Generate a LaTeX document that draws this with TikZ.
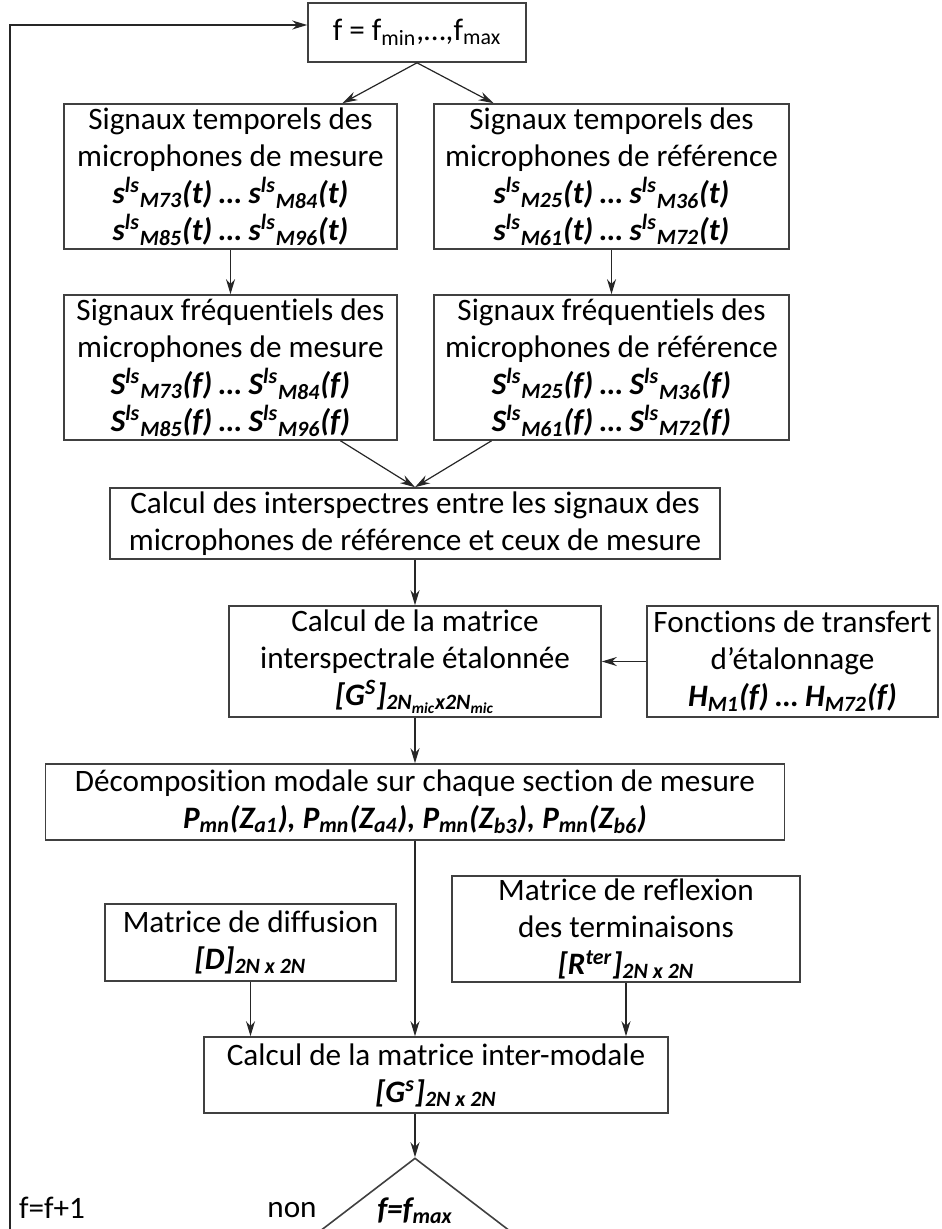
\documentclass[tikz,border=0pt]{standalone}
\usepackage{fontspec}
\setmainfont{Carlito}[Ligatures=NoCommon]
\usetikzlibrary{arrows.meta,shapes.geometric}
\newcommand{\msig}[3]{#1\textsuperscript{ls}\textsubscript{M#2}(#3)}

\begin{document}
\begin{tikzpicture}[x=0.5pt, y=-0.5pt, >={Stealth[length=7.5pt,width=4.5pt]},
	every node/.style={font=\fontsize{15.6}{18.5}\selectfont, align=center},
	box/.style={draw=black!75, line width=0.8pt, inner sep=1pt},
	line/.style={->, black!85, line width=0.6pt}]

	\path[use as bounding box] (0,0) rectangle (941,1229);
	\clip (0,0) rectangle (941,1229);

	% Boxes
	\node[box, minimum width=109pt, minimum height=29.5pt] (freq) at (417,32.5) {f = f\textsubscript{min},…,f\textsubscript{max}};
	\node[box, minimum width=166.5pt, minimum height=72.5pt] (tmes) at (230.5,176.5) {Signaux temporels des\\microphones de mesure\\{\bfseries\itshape \msig{s}{73}{t} … \msig{s}{84}{t}}\\{\bfseries\itshape \msig{s}{85}{t} … \msig{s}{96}{t}}};
	\node[box, minimum width=177.5pt, minimum height=72.5pt] (tref) at (611.5,176.5) {Signaux temporels des\\microphones de référence\\{\bfseries\itshape \msig{s}{25}{t} … \msig{s}{36}{t}}\\{\bfseries\itshape \msig{s}{61}{t} … \msig{s}{72}{t}}};
	\node[box, minimum width=166.5pt, minimum height=72.5pt] (fmes) at (230.5,367.5) {Signaux fréquentiels des\\microphones de mesure\\{\bfseries\itshape \msig{S}{73}{f} … \msig{S}{84}{f}}\\{\bfseries\itshape \msig{S}{85}{f} … \msig{S}{96}{f}}};
	\node[box, minimum width=177.5pt, minimum height=72.5pt] (fref) at (611.5,367.5) {Signaux fréquentiels des\\microphones de référence\\{\bfseries\itshape \msig{S}{25}{f} … \msig{S}{36}{f}}\\{\bfseries\itshape \msig{S}{61}{f} … \msig{S}{72}{f}}};
	\node[box, minimum width=305pt, minimum height=35.5pt] (inter) at (415,523.5) {Calcul des interspectres entre les signaux des\\microphones de référence et ceux de mesure};
	\node[box, minimum width=186pt, minimum height=55.5pt] (etal) at (415,661.5) {Calcul de la matrice\\interspectrale étalonnée\\{\bfseries\itshape [G\textsuperscript{S}]\textsubscript{2N\textsubscript{mic}x2N\textsubscript{mic}}}};
	\node[box, minimum width=145.5pt, minimum height=55.5pt] (transf) at (792.5,661.5) {Fonctions de transfert\\d'étalonnage\\{\bfseries\itshape H\textsubscript{M1}(f) … H\textsubscript{M72}(f)}};
	\node[box, minimum width=369.5pt, minimum height=38pt] (decomp) at (415,802) {Décomposition modale sur chaque section de mesure\\{\bfseries\itshape P\textsubscript{mn}(Z\textsubscript{a1}), P\textsubscript{mn}(Z\textsubscript{a4}), P\textsubscript{mn}(Z\textsubscript{b3}), P\textsubscript{mn}(Z\textsubscript{b6})}};
	\node[box, minimum width=145.5pt, minimum height=38.5pt] (diff) at (250.5,942.5) {Matrice de diffusion\\{\bfseries\itshape [D]\textsubscript{2N x 2N}}};
	\node[box, minimum width=174pt, minimum height=53pt] (refl) at (626,929) {Matrice de reflexion\\des terminaisons\\{\bfseries\itshape [R\textsuperscript{ter}]\textsubscript{2N x 2N}}};
	\node[box, minimum width=232pt, minimum height=38pt] (intermod) at (436,1075) {Calcul de la matrice inter-modale\\{\bfseries\itshape [G\textsuperscript{s}]\textsubscript{2N x 2N}}};
	\node[box, shape=diamond, minimum width=107pt, minimum height=82pt, inner sep=0pt] (test) at (415,1240) {};
	\node (testtxt) at (415,1211) {\bfseries\itshape f=f\textsubscript{max}};

	% Labels of the loop
	\node (non) at (292,1210) {non};
	\node (incr) at (52,1208) {f=f+1};
	\coordinate (retour) at (10,25);

	% Arrows
	\draw[line] (freq.south) -- ([xshift=56pt]tmes.north);
	\draw[line] (freq.south) -- ([xshift=-59pt]tref.north);
	\draw[line] (tmes) -- (fmes);
	\draw[line] (tref) -- (fref);
	\draw[line] ([xshift=55pt]fmes.south) -- (inter.north);
	\draw[line] ([xshift=-60pt]fref.south) -- (inter.north);
	\draw[line] (inter) -- (etal);
	\draw[line] (transf) -- (etal);
	\draw[line] (etal) -- (decomp);
	\draw[line] (decomp.south) -- (decomp.south |- intermod.north);
	\draw[line] (diff) -- (diff |- intermod.north);
	\draw[line] (refl) -- (refl |- intermod.north);
	\draw[line] (decomp.south |- intermod.south) -- (test.north);
	\draw[line] (test.west) -| (retour) -- ([yshift=3.75pt]freq.west);
\end{tikzpicture}
\end{document}
